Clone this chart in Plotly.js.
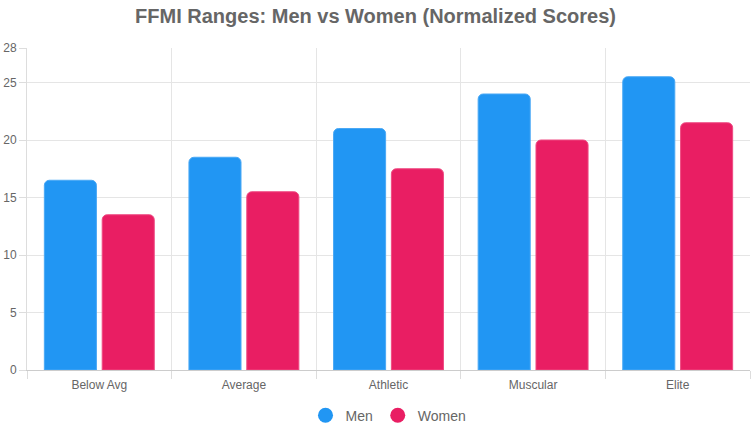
<!DOCTYPE html>
<html>
<head>
<meta charset="utf-8">
<script src="https://cdn.plot.ly/plotly-3.0.1.min.js"></script>
<style>
  html, body { margin: 0; padding: 0; background: #fff; }
  #chart { width: 751px; height: 433px; }
</style>
</head>
<body>
<div id="chart"></div>
<script>
// FFMI ranges by category
var categories = ['Below Avg', 'Average', 'Athletic', 'Muscular', 'Elite'];
var menScores = [16.5, 18.5, 21, 24, 25.5];
var womenScores = [13.5, 15.5, 17.5, 20, 21.5];
var yTicks = [0, 5, 10, 15, 20, 25, 28];

var menColor = '#2196F3';
var womenColor = '#E91E63';

var menBars = {
  x: categories,
  y: menScores,
  name: 'Men',
  type: 'bar',
  showlegend: false,
  legendgroup: 'men',
  marker: {color: menColor, cornerradius: 5, line: {color: '#4aa8f5', width: 1}},
  hoverinfo: 'y'
};

var womenBars = {
  x: categories,
  y: womenScores,
  name: 'Women',
  type: 'bar',
  showlegend: false,
  legendgroup: 'women',
  marker: {color: womenColor, cornerradius: 5, line: {color: '#ee4a82', width: 1}},
  hoverinfo: 'y'
};

// legend entries drawn as circles
var menKey = {
  x: [null], y: [null], name: 'Men', type: 'scatter', mode: 'markers',
  legendgroup: 'men', marker: {color: menColor, size: 15, symbol: 'circle'}
};
var womenKey = {
  x: [null], y: [null], name: 'Women', type: 'scatter', mode: 'markers',
  legendgroup: 'women', marker: {color: womenColor, size: 15, symbol: 'circle'}
};

var layout = {
  width: 751,
  height: 433,
  margin: {l: 27, r: 1, t: 48, b: 63, autoexpand: false},
  paper_bgcolor: '#fff',
  plot_bgcolor: '#fff',
  font: {family: 'Liberation Sans, Arial, sans-serif', color: '#666', size: 12},
  title: {
    text: '<b>FFMI Ranges: Men vs Women (Normalized Scores)</b>',
    font: {size: 20, color: '#666'},
    x: 0.5, xanchor: 'center', y: 0.962, yanchor: 'middle'
  },
  barmode: 'group',
  bargap: 0.2,
  bargroupgap: 0.1,
  xaxis: {
    type: 'category',
    tickson: 'boundaries',
    ticks: 'outside',
    ticklen: 8,
    tickcolor: '#ddd',
    ticklabelstandoff: 4,
    showgrid: true,
    gridcolor: '#e5e5e5',
    showline: true,
    linecolor: '#ccc',
    tickfont: {size: 12, color: '#666'}
  },
  yaxis: {
    range: [0, 28],
    tickvals: yTicks,
    ticks: 'outside',
    ticklen: 7,
    tickcolor: '#ddd',
    showgrid: true,
    gridcolor: '#e5e5e5',
    zeroline: false,
    showline: true,
    linecolor: '#ddd',
    tickfont: {size: 12, color: '#666'}
  },
  legend: {
    orientation: 'h',
    x: 0.5, xanchor: 'center',
    yref: 'container',
    y: 0.04, yanchor: 'middle',
    font: {size: 14, color: '#666'},
    itemwidth: 30
  },
  showlegend: true
};

Plotly.newPlot('chart', [menBars, womenBars, menKey, womenKey], layout, {displayModeBar: false});
</script>
</body>
</html>
